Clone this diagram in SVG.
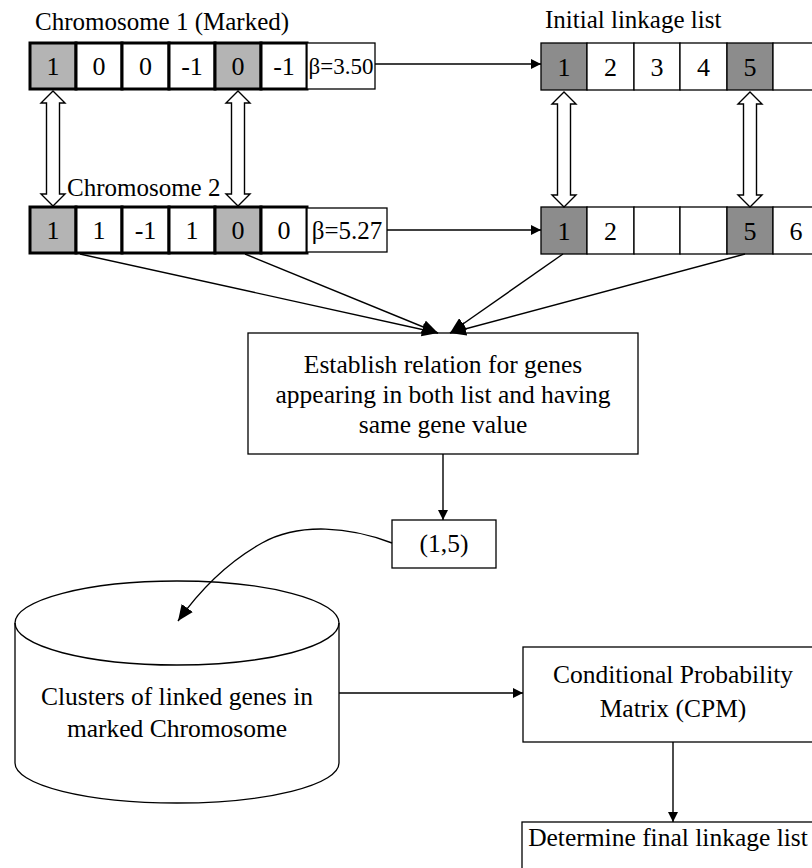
<svg xmlns="http://www.w3.org/2000/svg" width="812" height="868" viewBox="0 0 812 868">
  <style>
    text { font-family: "Liberation Serif", "Times New Roman", serif; fill: #000; }
    .lbl { font-size: 25px; }
    .cell-t { font-size: 26px; text-anchor: middle; }
    .beta1 { font-size: 23px; text-anchor: middle; }
    .beta2 { font-size: 25px; text-anchor: middle; }
    .box-t { font-size: 25.5px; text-anchor: middle; }
    .gene { fill: #fff; stroke: #000; stroke-width: 3; }
    .gene-on { fill: #b4b4b4; stroke: #000; stroke-width: 3; }
    .thin { fill: #fff; stroke: #000; stroke-width: 1.3; }
    .link-on { fill: #8c8c8c; stroke: #000; stroke-width: 1.3; }
    .edge { fill: none; stroke: #000; stroke-width: 1.4; }
    .dbl { fill: #fff; stroke: #000; stroke-width: 1.4; stroke-linejoin: miter; }
  </style>
  <defs>
    <marker id="arr" viewBox="0 0 10 10" refX="10" refY="5" markerWidth="10" markerHeight="10" markerUnits="userSpaceOnUse" orient="auto">
      <path d="M0,0 L10,5 L0,10 Z" fill="#000"/>
    </marker>
    <marker id="arrL" viewBox="0 0 14 12" refX="14" refY="6" markerWidth="16" markerHeight="14" markerUnits="userSpaceOnUse" orient="auto">
      <path d="M0,0 L14,6 L0,12 Z" fill="#000"/>
    </marker>
    <!-- hollow two-headed arrow, 115 px tall, centred on x = 0 -->
    <path id="dblarrow" d="M0,0 L12,12 L6.5,12 L6.5,103 L12,103 L0,115 L-12,103 L-6.5,103 L-6.5,12 L-12,12 Z"/>
  </defs>

  <!-- Chromosome 1 -->
  <g id="chromosome1">
    <text class="lbl" x="35" y="30">Chromosome 1 (Marked)</text>
    <rect class="gene-on" x="30" y="43" width="46" height="46"/>
    <rect class="gene" x="76" y="43" width="46" height="46"/>
    <rect class="gene" x="122" y="43" width="47" height="46"/>
    <rect class="gene" x="169" y="43" width="46" height="46"/>
    <rect class="gene-on" x="215" y="43" width="46" height="46"/>
    <rect class="gene" x="261" y="43" width="46" height="46"/>
    <rect class="thin" x="307" y="43" width="68" height="46"/>
    <text class="cell-t" x="53" y="75">1</text>
    <text class="cell-t" x="99" y="75">0</text>
    <text class="cell-t" x="145.5" y="75">0</text>
    <text class="cell-t" x="192" y="75">-1</text>
    <text class="cell-t" x="238" y="75">0</text>
    <text class="cell-t" x="284" y="75">-1</text>
    <text class="beta1" x="341" y="74">β=3.50</text>
  </g>

  <!-- Initial linkage list (upper row) -->
  <g id="linkage1">
    <text class="lbl" x="545" y="28">Initial linkage list</text>
    <rect class="link-on" x="541" y="43" width="46" height="47"/>
    <rect class="thin" x="587" y="43" width="47" height="47"/>
    <rect class="thin" x="634" y="43" width="46" height="47"/>
    <rect class="thin" x="680" y="43" width="47" height="47"/>
    <rect class="link-on" x="727" y="43" width="46" height="47"/>
    <rect class="thin" x="773" y="43" width="50" height="47"/>
    <text class="cell-t" x="564" y="76">1</text>
    <text class="cell-t" x="610.5" y="76">2</text>
    <text class="cell-t" x="657" y="76">3</text>
    <text class="cell-t" x="703.5" y="76">4</text>
    <text class="cell-t" x="750" y="76">5</text>
  </g>

  <!-- Chromosome 2 -->
  <g id="chromosome2">
    <text class="lbl" x="67" y="196">Chromosome 2</text>
    <rect class="gene-on" x="30" y="207" width="46" height="46"/>
    <rect class="gene" x="76" y="207" width="46" height="46"/>
    <rect class="gene" x="122" y="207" width="47" height="46"/>
    <rect class="gene" x="169" y="207" width="46" height="46"/>
    <rect class="gene-on" x="215" y="207" width="46" height="46"/>
    <rect class="gene" x="261" y="207" width="46" height="46"/>
    <rect class="thin" x="307" y="208" width="80" height="44"/>
    <text class="cell-t" x="53" y="239">1</text>
    <text class="cell-t" x="99" y="239">1</text>
    <text class="cell-t" x="145.5" y="239">-1</text>
    <text class="cell-t" x="192" y="239">1</text>
    <text class="cell-t" x="238" y="239">0</text>
    <text class="cell-t" x="284" y="239">0</text>
    <text class="beta2" x="347" y="239">β=5.27</text>
  </g>

  <!-- Linkage list (lower row) -->
  <g id="linkage2">
    <rect class="link-on" x="541" y="207" width="46" height="47"/>
    <rect class="thin" x="587" y="207" width="47" height="47"/>
    <rect class="thin" x="634" y="207" width="46" height="47"/>
    <rect class="thin" x="680" y="207" width="47" height="47"/>
    <rect class="link-on" x="727" y="207" width="46" height="47"/>
    <rect class="thin" x="773" y="207" width="50" height="47"/>
    <text class="cell-t" x="564" y="240">1</text>
    <text class="cell-t" x="610.5" y="240">2</text>
    <text class="cell-t" x="750" y="240">5</text>
    <text class="cell-t" x="796" y="240">6</text>
  </g>

  <!-- Relation step -->
  <g id="relation">
    <rect class="thin" x="248" y="333" width="390" height="121"/>
    <text class="box-t" x="443" y="373">Establish relation for genes</text>
    <text class="box-t" x="443" y="403">appearing in both list and having</text>
    <text class="box-t" x="443" y="433">same gene value</text>
  </g>

  <!-- Linked pair -->
  <g id="pair">
    <rect class="thin" x="392" y="520" width="104" height="48"/>
    <text class="box-t" x="444" y="552">(1,5)</text>
  </g>

  <!-- Cluster store -->
  <g id="clusters">
    <path class="thin" d="M15,623 L15,763 A162,40 0 0 0 339,763 L339,623 A162,42 0 0 0 15,623 Z"/>
    <path class="edge" d="M15,623 A162,42 0 0 0 339,623"/>
    <text class="box-t" x="177" y="705">Clusters of linked genes in</text>
    <text class="box-t" x="177" y="737">marked Chromosome</text>
  </g>

  <!-- CPM -->
  <g id="cpm">
    <rect class="thin" x="523" y="647" width="300" height="95"/>
    <text class="box-t" x="673" y="683">Conditional Probability</text>
    <text class="box-t" x="673" y="717">Matrix (CPM)</text>
  </g>

  <!-- Final linkage list -->
  <g id="final">
    <rect class="thin" x="522" y="822" width="300" height="60"/>
    <text class="box-t" x="668" y="846">Determine final linkage list</text>
  </g>

  <!-- Connectors -->
  <g id="connectors">
    <use href="#dblarrow" class="dbl" x="53" y="91"/>
    <use href="#dblarrow" class="dbl" x="238" y="91"/>
    <use href="#dblarrow" class="dbl" x="564" y="92"/>
    <use href="#dblarrow" class="dbl" x="750" y="92"/>
    <line class="edge" x1="375" y1="64" x2="541" y2="64" marker-end="url(#arr)"/>
    <line class="edge" x1="387" y1="230" x2="541" y2="230" marker-end="url(#arr)"/>
    <line class="edge" x1="80" y1="254" x2="438" y2="333" marker-end="url(#arrL)"/>
    <line class="edge" x1="245" y1="254" x2="438" y2="333" marker-end="url(#arrL)"/>
    <line class="edge" x1="563" y1="254" x2="450" y2="333" marker-end="url(#arrL)"/>
    <line class="edge" x1="745" y1="254" x2="450" y2="333" marker-end="url(#arrL)"/>
    <line class="edge" x1="443" y1="454" x2="443" y2="520" marker-end="url(#arr)"/>
    <path class="edge" d="M392,543 C350,527 300,522 262,543 C228,562 200,590 178,621" marker-end="url(#arrL)"/>
    <line class="edge" x1="339" y1="693" x2="523" y2="693" marker-end="url(#arr)"/>
    <line class="edge" x1="673" y1="742" x2="673" y2="822" marker-end="url(#arr)"/>
  </g>
</svg>
